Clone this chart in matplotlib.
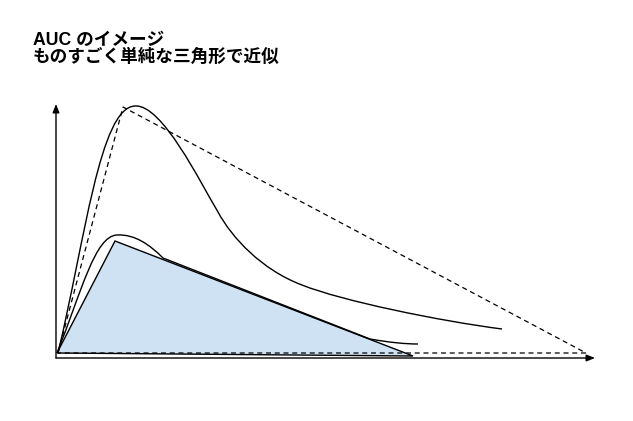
import matplotlib
matplotlib.use("Agg")
import matplotlib.pyplot as plt
from matplotlib.path import Path
from matplotlib.patches import PathPatch, Polygon

plt.rcParams['font.family'] = ['Liberation Sans', 'Noto Sans CJK JP', 'DejaVu Sans']

title_lines = ["AUC のイメージ", "ものすごく単純な三角形で近似"]

# diagram drawn in pixel coordinates of the 633x421 picture (y grows downward)
origin = (56, 358)
y_axis_top = (56, 104)
x_axis_end = (595, 358)

# big concentration curve: start, then cubic bezier segments (ctrl1, ctrl2, end)
big_start = (58, 353)
big_segments = [
    ((85, 240), (100, 107), (135, 106)),
    ((162, 104), (200, 182), (218, 212)),
    ((232, 238), (262, 270), (302, 285)),
    ((342, 301), (440, 321), (502, 329)),
]

# small concentration curve
small_start = (57, 353)
small_segments = [
    ((82, 290), (95, 236), (117, 235)),
    ((135, 234), (150, 245), (163, 258)),
    ((232, 285), (301, 312), (370, 339)),
    ((390, 342.5), (405, 344), (418, 344)),
]

# triangles approximating the curves
big_triangle = [(58, 353), (123, 107), (586, 353)]
small_triangle = [(57, 353), (115, 241), (413, 356)]


def bezier_path(start, segments):
    verts = [start]
    codes = [Path.MOVETO]
    for c1, c2, end in segments:
        verts += [c1, c2, end]
        codes += [Path.CURVE4] * 3
    return Path(verts, codes)


fig = plt.figure(figsize=(6.33, 4.21), dpi=100)
ax = fig.add_axes([0, 0, 1, 1])
ax.set_xlim(0, 633)
ax.set_ylim(421, 0)
ax.axis('off')

ax.add_patch(Polygon(small_triangle, closed=True, facecolor='#cfe2f3',
                     edgecolor='black', linewidth=1.0, zorder=2))
ax.add_patch(Polygon(big_triangle, closed=True, fill=False, edgecolor='black',
                     linewidth=0.9, linestyle=(0, (4, 3)), zorder=3))

for start, segs in [(big_start, big_segments), (small_start, small_segments)]:
    ax.add_patch(PathPatch(bezier_path(start, segs), fill=False,
                           edgecolor='black', linewidth=1.0, zorder=4))

arrow = dict(arrowstyle='-|>,head_length=0.5,head_width=0.2', color='black',
             linewidth=1.0, shrinkA=0, shrinkB=0)
ax.annotate('', xy=y_axis_top, xytext=origin, arrowprops=arrow, zorder=5)
ax.annotate('', xy=x_axis_end, xytext=origin, arrowprops=arrow, zorder=5)

ax.text(33, 45, title_lines[0], fontsize=12.7, fontweight='bold', va='baseline')
ax.text(33, 62, title_lines[1], fontsize=12.7, fontweight='bold', va='baseline')

fig.savefig("out.png", dpi=100)
